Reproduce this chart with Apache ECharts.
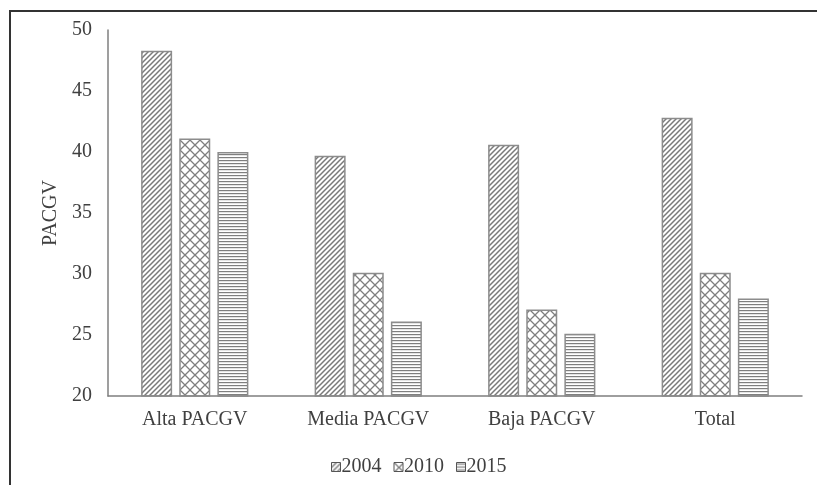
<!DOCTYPE html>
<html>
<head>
<meta charset="utf-8">
<script src="https://cdn.jsdelivr.net/npm/echarts@6/dist/echarts.min.js"></script>
<style>
html, body { margin: 0; padding: 0; background: #fff; }
#chart { width: 817px; height: 485px; }
.frame {
  position: absolute; left: 9px; top: 10px; width: 808px; height: 475px;
  border-left: 2px solid #333; border-top: 2px solid #333;
  box-sizing: border-box; pointer-events: none;
}
</style>
</head>
<body>
<div id="chart"></div>
<div class="frame"></div>
<script>
// categorias y valores
var categories = ['Alta PACGV', 'Media PACGV', 'Baja PACGV', 'Total'];
var years = ['2004', '2010', '2015'];
var v2004 = [48.3, 39.7, 40.6, 42.8];
var v2010 = [41.1, 30.1, 27.1, 30.1];
var v2015 = [40.0, 26.1, 25.1, 28.0];
var yTicks = [20, 25, 30, 35, 40, 45, 50];

// patrones de relleno
function makePattern(kind) {
  var c = document.createElement('canvas');
  var ctx;
  if (kind === 'diag') {
    c.width = 5; c.height = 5;
    ctx = c.getContext('2d');
    ctx.strokeStyle = '#7a7a7a';
    ctx.lineWidth = 1.5;
    ctx.beginPath();
    ctx.moveTo(-1, 6); ctx.lineTo(6, -1);
    ctx.moveTo(-1, 1); ctx.lineTo(1, -1);
    ctx.moveTo(4, 6); ctx.lineTo(6, 4);
    ctx.stroke();
  } else if (kind === 'cross') {
    c.width = 10; c.height = 10;
    ctx = c.getContext('2d');
    ctx.strokeStyle = '#7f7f7f';
    ctx.lineWidth = 1.3;
    ctx.beginPath();
    ctx.moveTo(0, 0); ctx.lineTo(10, 10);
    ctx.moveTo(10, 0); ctx.lineTo(0, 10);
    ctx.stroke();
  } else {
    c.width = 3; c.height = 3;
    ctx = c.getContext('2d');
    ctx.fillStyle = '#7f7f7f';
    ctx.fillRect(0, 1, 3, 1.2);
  }
  return { image: c, repeat: 'repeat' };
}

var patterns = [makePattern('diag'), makePattern('cross'), makePattern('horiz')];
var values = [v2004, v2010, v2015];

var chart = echarts.init(document.getElementById('chart'));
var font = 'Liberation Serif';

var option = {
  animation: false,
  grid: { left: 108, right: 15, top: 30, bottom: 89 },
  legend: {
    data: years,
    left: 326,
    top: 452,
    icon: 'rect',
    itemWidth: 9,
    itemHeight: 9,
    itemGap: 12,
    textStyle: { fontFamily: font, fontSize: 20, color: '#404040', padding: [0, 0, 0, -4] },
    itemStyle: { borderColor: '#555', borderWidth: 1 }
  },
  xAxis: {
    type: 'category',
    data: categories,
    axisLine: { lineStyle: { color: '#7f7f7f', width: 1.5 } },
    axisTick: { show: false },
    axisLabel: { fontFamily: font, fontSize: 20, color: '#404040', margin: 14 }
  },
  yAxis: {
    type: 'value',
    min: yTicks[0],
    max: yTicks[yTicks.length - 1],
    interval: 5,
    name: 'PACGV',
    nameLocation: 'middle',
    nameGap: 46,
    nameTextStyle: { fontFamily: font, fontSize: 20, color: '#404040' },
    axisLine: { show: true, lineStyle: { color: '#7f7f7f', width: 1.5 } },
    axisTick: { show: false },
    splitLine: { show: false },
    axisLabel: { fontFamily: font, fontSize: 20, color: '#404040', margin: 16 }
  },
  series: years.map(function (y, i) {
    return {
      name: y,
      type: 'bar',
      data: values[i],
      barWidth: 31,
      barGap: '23%',
      itemStyle: {
        color: patterns[i],
        borderColor: '#8c8c8c',
        borderWidth: 1.5
      }
    };
  })
};

chart.setOption(option);
</script>
</body>
</html>
